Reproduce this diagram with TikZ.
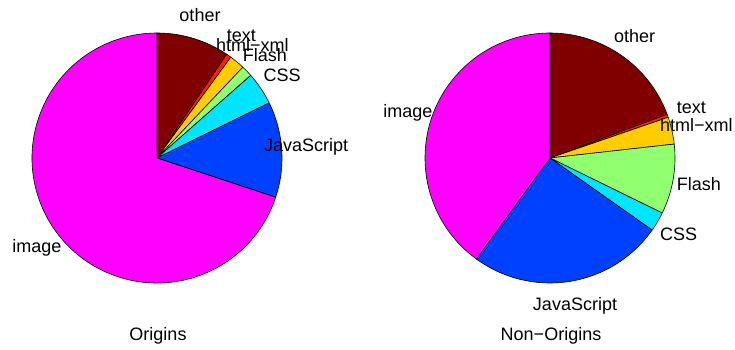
\documentclass[tikz,border=0pt]{standalone}
\usepackage{fontspec}
\setmainfont{Liberation Sans}
\usepackage{xcolor}
\usepackage{tikz}
\definecolor{otherred}{RGB}{128,0,0}
\definecolor{textred}{RGB}{255,32,0}
\definecolor{htmlgold}{RGB}{255,204,0}
\definecolor{flashgreen}{RGB}{144,255,112}
\definecolor{csscyan}{RGB}{0,229,255}
\definecolor{jsblue}{RGB}{0,64,255}
\definecolor{imgmagenta}{RGB}{255,0,255}
\tikzset{
  % 扇形
  slice/.style={draw=black, line width=0.6pt, line join=round},
  % 标签
  lab/.style={font=\fontsize{18}{19}\selectfont, inner sep=0pt},
  % 标题
  title/.style={lab},
}

\begin{document}
\begin{tikzpicture}[x=1pt, y=1pt]
    \useasboundingbox (0,0) rectangle (735,350);

    % Origins
    \coordinate (cl) at (157,192);
    \filldraw[slice, fill=otherred]   (cl) -- ++(90:125)   arc[start angle=90,   end angle=56.1,  radius=125] -- cycle;
    \filldraw[slice, fill=textred]    (cl) -- ++(56.1:125) arc[start angle=56.1, end angle=53.8,  radius=125] -- cycle;
    \filldraw[slice, fill=htmlgold]   (cl) -- ++(53.8:125) arc[start angle=53.8, end angle=46.6,  radius=125] -- cycle;
    \filldraw[slice, fill=flashgreen] (cl) -- ++(46.6:125) arc[start angle=46.6, end angle=41.4,  radius=125] -- cycle;
    \filldraw[slice, fill=csscyan]    (cl) -- ++(41.4:125) arc[start angle=41.4, end angle=26.2,  radius=125] -- cycle;
    \filldraw[slice, fill=jsblue]     (cl) -- ++(26.2:125) arc[start angle=26.2, end angle=-18.3, radius=125] -- cycle;
    \filldraw[slice, fill=imgmagenta] (cl) -- ++(-18.3:125) arc[start angle=-18.3, end angle=-270, radius=125] -- cycle;

    \node[lab] (lother) at (200,335) {other};
    \node[lab, anchor=west] (ltext) at (226.7,314) {text};
    \node[lab, anchor=west] (lhtml) at (216,305) {html−xml};
    \node[lab, anchor=west] (lflash) at (242.7,295) {Flash};
    \node[lab, anchor=west] (lcss) at (263.3,275) {CSS};
    \node[lab, anchor=west] (ljs) at (264,203) {JavaScript};
    \node[lab, anchor=east] (limage) at (61.7,102.5) {image};
    \node[title] (ltitle) at (158,14) {Origins};

    % Non-Origins
    \coordinate (cr) at (550,192);
    \filldraw[slice, fill=otherred]   (cr) -- ++(90:125)    arc[start angle=90,    end angle=20.4,   radius=125] -- cycle;
    \filldraw[slice, fill=textred]    (cr) -- ++(20.4:125)  arc[start angle=20.4,  end angle=19.0,   radius=125] -- cycle;
    \filldraw[slice, fill=htmlgold]   (cr) -- ++(19.0:125)  arc[start angle=19.0,  end angle=6.4,    radius=125] -- cycle;
    \filldraw[slice, fill=flashgreen] (cr) -- ++(6.4:125)   arc[start angle=6.4,   end angle=-26.1,  radius=125] -- cycle;
    \filldraw[slice, fill=csscyan]    (cr) -- ++(-26.1:125) arc[start angle=-26.1, end angle=-35.2,  radius=125] -- cycle;
    \filldraw[slice, fill=jsblue]     (cr) -- ++(-35.2:125) arc[start angle=-35.2, end angle=-126.1, radius=125] -- cycle;
    \filldraw[slice, fill=imgmagenta] (cr) -- ++(-126.1:125) arc[start angle=-126.1, end angle=-270, radius=125] -- cycle;

    \node[lab, anchor=west] (rother) at (614,314) {other};
    \node[lab, anchor=west] (rtext) at (676.7,242.5) {text};
    \node[lab, anchor=west] (rhtml) at (660,225) {html−xml};
    \node[lab, anchor=west] (rflash) at (676.7,166) {Flash};
    \node[lab, anchor=west] (rcss) at (660,116) {CSS};
    \node[lab] (rjs) at (575,44) {JavaScript};
    \node[lab, anchor=east] (rimage) at (432.7,237) {image};
    \node[title] (rtitle) at (551,14) {Non−Origins};
\end{tikzpicture}
\end{document}
